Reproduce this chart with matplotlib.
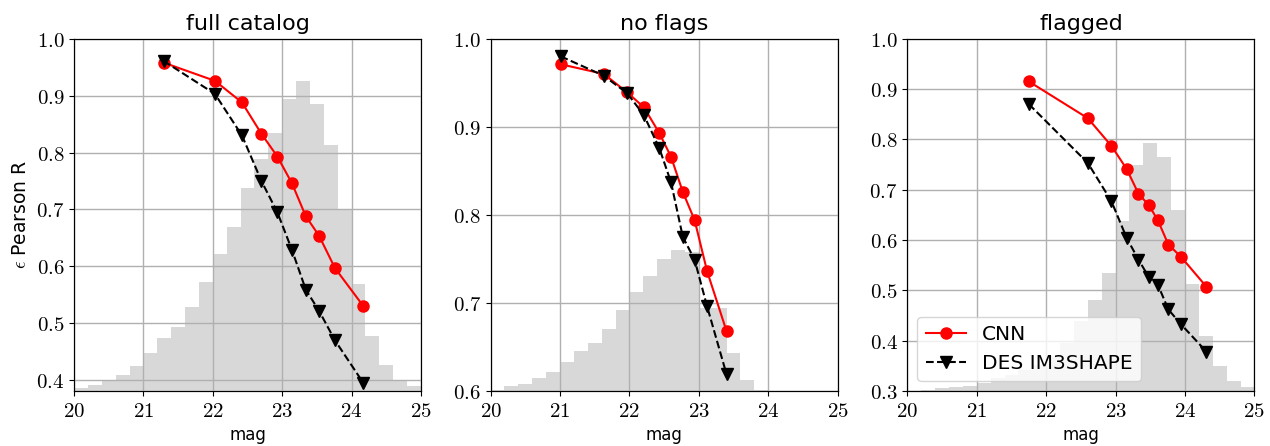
import matplotlib
matplotlib.use("Agg")
import matplotlib.pyplot as plt
from matplotlib.ticker import FuncFormatter
import numpy as np

plt.rcParams['mathtext.fontset'] = 'cm'
plt.rcParams['font.family'] = ['DejaVu Sans']

# histogram bins (mag), same for every panel
bin_edges = [20.0 + 0.2 * i for i in range(26)]

# ---- full catalog ----
full_mag = [21.29, 22.03, 22.42, 22.70, 22.93, 23.14, 23.34, 23.53, 23.76, 24.17]
full_cnn = [0.958, 0.926, 0.888, 0.833, 0.793, 0.746, 0.688, 0.654, 0.597, 0.530]
full_des = [0.961, 0.903, 0.830, 0.750, 0.695, 0.629, 0.559, 0.522, 0.470, 0.395]
full_hist = [0.008, 0.017, 0.028, 0.045, 0.071, 0.108, 0.150, 0.182, 0.238, 0.309,
             0.388, 0.465, 0.576, 0.658, 0.731, 0.828, 0.879, 0.814, 0.698, 0.515,
             0.303, 0.157, 0.074, 0.030, 0.014]

# ---- no flags ----
noflag_mag = [21.01, 21.63, 21.97, 22.21, 22.43, 22.60, 22.77, 22.94, 23.12, 23.40]
noflag_cnn = [0.971, 0.960, 0.939, 0.922, 0.893, 0.866, 0.826, 0.794, 0.736, 0.668]
noflag_des = [0.980, 0.958, 0.938, 0.913, 0.876, 0.837, 0.775, 0.749, 0.696, 0.619]
noflag_hist = [0.003, 0.014, 0.021, 0.037, 0.054, 0.082, 0.114, 0.136, 0.176, 0.230,
               0.281, 0.326, 0.374, 0.400, 0.395, 0.235, 0.235, 0.109, 0.031, 0.003,
               0.0, 0.0, 0.0, 0.0, 0.0]

# ---- flagged ----
flag_mag = [21.75, 22.60, 22.94, 23.16, 23.33, 23.48, 23.61, 23.76, 23.94, 24.31]
flag_cnn = [0.915, 0.842, 0.787, 0.741, 0.692, 0.669, 0.639, 0.591, 0.567, 0.507]
flag_des = [0.870, 0.753, 0.677, 0.604, 0.561, 0.526, 0.511, 0.462, 0.433, 0.378]
flag_hist = [0.001, 0.003, 0.008, 0.010, 0.013, 0.023, 0.037, 0.045, 0.060, 0.075,
             0.100, 0.136, 0.199, 0.258, 0.335, 0.483, 0.641, 0.703, 0.664, 0.514,
             0.304, 0.157, 0.072, 0.029, 0.012]

panels = [
    ("full catalog", full_mag, full_cnn, full_des, full_hist, (0.381, 1.0), np.arange(0.4, 1.01, 0.1)),
    ("no flags", noflag_mag, noflag_cnn, noflag_des, noflag_hist, (0.6, 1.0), np.arange(0.6, 1.01, 0.1)),
    ("flagged", flag_mag, flag_cnn, flag_des, flag_hist, (0.3, 1.0), np.arange(0.3, 1.01, 0.1)),
]

lefts = [0.0583, 0.3863, 0.7145]
width = 0.2732
bottom = 0.1233
height = 0.7899

fig = plt.figure(figsize=(12.7, 4.46), dpi=100)
tex = FuncFormatter(lambda v, pos: r'$%.1f$' % v)
texint = FuncFormatter(lambda v, pos: r'$%d$' % v)

for i, (title, mag, cnn, des, hist, ylim, yticks) in enumerate(panels):
    ax = fig.add_axes([lefts[i], bottom, width, height])
    axh = ax.twinx()
    # histogram sits behind the curves
    ax.set_zorder(axh.get_zorder() + 1)
    ax.patch.set_visible(False)

    centers = [(bin_edges[j] + bin_edges[j + 1]) / 2 for j in range(len(hist))]
    axh.bar(centers, hist, width=0.2, color='gray', alpha=0.3, linewidth=0)
    axh.set_ylim(0, 1)
    axh.set_yticks([])

    ax.plot(mag, cnn, 'o-', color='red', markersize=8, linewidth=1.5, label='CNN')
    ax.plot(mag, des, 'v--', color='k', markersize=8, linewidth=1.5, label='DES IM3SHAPE')

    ax.set_xlim(20, 25)
    ax.set_ylim(*ylim)
    ax.set_xticks(range(20, 26))
    ax.set_yticks(yticks)
    ax.xaxis.set_major_formatter(texint)
    ax.yaxis.set_major_formatter(tex)
    ax.tick_params(labelsize=15)
    ax.grid(True, color='#b0b0b0', linewidth=1)
    ax.set_title(title, fontsize=16)
    ax.set_xlabel('mag', fontsize=12)
    if i == 0:
        ax.set_ylabel(r'$\epsilon$ Pearson R', fontsize=13.5)
    if i == 2:
        ax.legend(loc='lower left', fontsize=14.5)

plt.savefig('out.png', dpi=100)
